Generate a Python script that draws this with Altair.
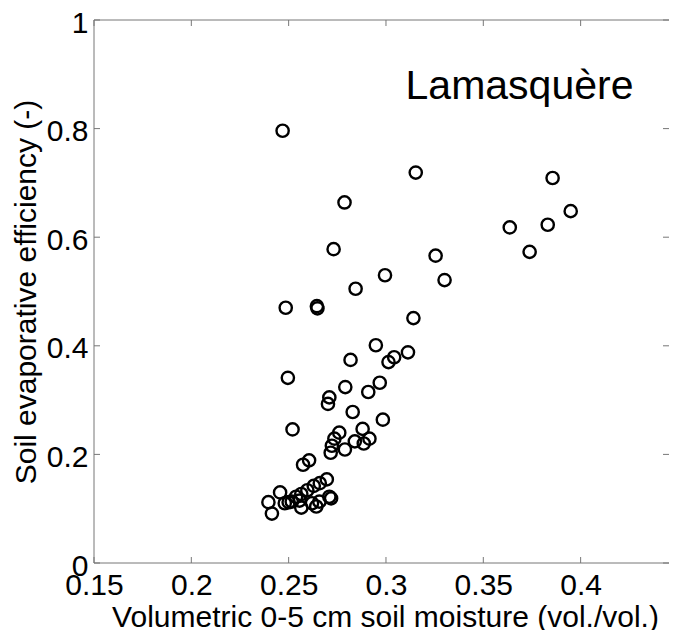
import altair as alt
import pandas as pd

# Volumetric 0-5 cm soil moisture (vol./vol.)
moisture = [0.2469, 0.3153, 0.3856, 0.2787, 0.3949, 0.3636, 0.3831, 0.3738, 0.2731, 0.3255,
            0.2995, 0.3301, 0.2844, 0.2485, 0.2645, 0.2648, 0.3141, 0.2948, 0.3113, 0.3042,
            0.3013, 0.2818, 0.2496, 0.2968, 0.2791, 0.2909, 0.2709, 0.2702, 0.2829, 0.2984,
            0.2520, 0.2880, 0.2760, 0.2735, 0.2915, 0.2840, 0.2886, 0.2722, 0.2789, 0.2716,
            0.2574, 0.2605, 0.2696, 0.2660, 0.2629, 0.2596, 0.2456, 0.2565, 0.2538, 0.2709,
            0.2718, 0.2396, 0.2480, 0.2516, 0.2556, 0.2565, 0.2642, 0.2658, 0.2414, 0.2500,
            0.2620]
# Soil evaporative efficiency (-)
efficiency = [0.796, 0.719, 0.709, 0.664, 0.648, 0.618, 0.623, 0.573, 0.578, 0.566,
              0.530, 0.521, 0.505, 0.470, 0.473, 0.469, 0.451, 0.401, 0.388, 0.379,
              0.370, 0.374, 0.341, 0.332, 0.324, 0.315, 0.305, 0.293, 0.278, 0.264,
              0.246, 0.247, 0.240, 0.229, 0.229, 0.224, 0.220, 0.216, 0.209, 0.203,
              0.181, 0.189, 0.154, 0.147, 0.142, 0.134, 0.130, 0.127, 0.122, 0.122,
              0.119, 0.112, 0.110, 0.113, 0.115, 0.102, 0.104, 0.113, 0.091, 0.112,
              0.110]

x_ticks = [0.15, 0.2, 0.25, 0.3, 0.35, 0.4]
y_ticks = [0, 0.2, 0.4, 0.6, 0.8, 1.0]
site_label = ["Lamasquère"]
label_x = [0.3686]
label_y = [0.855]

W, H = 575, 543
FONT = "Liberation Sans"
LINE = "#777777"
TICK = 6

xs = alt.Scale(domain=[0.15, 0.4454], nice=False, zero=False)
ys = alt.Scale(domain=[0, 1], nice=False, zero=False)

xa = alt.Axis(values=x_ticks, format=".2~f",
              title="Volumetric 0-5 cm soil moisture (vol./vol.)",
              labelPadding=7, titlePadding=2, labelFlush=False, labelOverlap=False,
              titleX=291, titleAnchor="middle", titleAlign="center")
ya = alt.Axis(values=y_ticks, format=".1~f", title="Soil evaporative efficiency (-)",
              labelPadding=6, titlePadding=5, labelFlush=False, labelOverlap=False,
              labelOffset=3)

df = pd.DataFrame({"m": moisture, "e": efficiency})
xt = pd.DataFrame({"v": x_ticks})
yt = pd.DataFrame({"v": y_ticks})
lab = pd.DataFrame({"t": site_label, "x": label_x, "y": label_y})
one = pd.DataFrame({"k": [0]})

points = alt.Chart(df).mark_point(
    shape="circle", filled=False, stroke="black", strokeWidth=2.4, size=150, opacity=1
).encode(
    x=alt.X("m:Q", scale=xs, axis=xa),
    y=alt.Y("e:Q", scale=ys, axis=ya),
)

text = alt.Chart(lab).mark_text(
    font=FONT, fontSize=41, align="center", baseline="alphabetic", color="black"
).encode(
    x=alt.X("x:Q", scale=xs, axis=xa),
    y=alt.Y("y:Q", scale=ys, axis=ya),
    text="t:N",
)

bottom_ticks = alt.Chart(xt).mark_rule(color=LINE, strokeWidth=1).encode(
    x=alt.X("v:Q", scale=xs, axis=xa), y=alt.value(H), y2=alt.value(H - TICK))
top_ticks = alt.Chart(xt).mark_rule(color=LINE, strokeWidth=1).encode(
    x=alt.X("v:Q", scale=xs, axis=xa), y=alt.value(0), y2=alt.value(TICK))
left_ticks = alt.Chart(yt).mark_rule(color=LINE, strokeWidth=1).encode(
    y=alt.Y("v:Q", scale=ys, axis=ya), x=alt.value(0), x2=alt.value(TICK))
right_ticks = alt.Chart(yt).mark_rule(color=LINE, strokeWidth=1).encode(
    y=alt.Y("v:Q", scale=ys, axis=ya), x=alt.value(W), x2=alt.value(W - TICK))

left_spine = alt.Chart(one).mark_rule(color=LINE, strokeWidth=1).encode(
    x=alt.value(0), y=alt.value(0), y2=alt.value(H))
top_spine = alt.Chart(one).mark_rule(color=LINE, strokeWidth=1).encode(
    y=alt.value(0), x=alt.value(0), x2=alt.value(W))
bottom_spine = alt.Chart(one).mark_rule(color=LINE, strokeWidth=1).encode(
    y=alt.value(H), x=alt.value(0), x2=alt.value(W))

chart = alt.layer(
    points, text, bottom_ticks, top_ticks, left_ticks, right_ticks,
    left_spine, top_spine, bottom_spine
).properties(
    width=W, height=H,
    autosize=alt.AutoSizeParams(type="none"),
    padding={"left": 86, "top": 12, "right": 0, "bottom": 67},
    background="white",
).configure_view(
    stroke=None
).configure_axis(
    labelFont=FONT, labelFontSize=30, labelColor="black",
    titleFont=FONT, titleFontSize=30, titleColor="black", titleFontWeight="normal",
    domain=False, ticks=False, tickSize=0, grid=False,
)

chart.save("out.html", embed_options={"renderer": "svg", "actions": False})
